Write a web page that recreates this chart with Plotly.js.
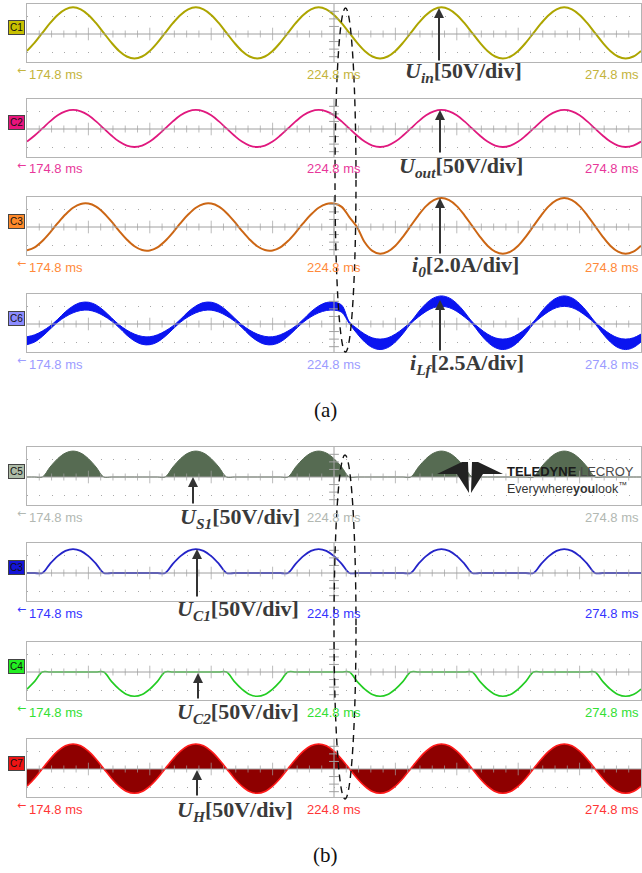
<!DOCTYPE html>
<html><head><meta charset="utf-8">
<script src="https://cdn.plot.ly/plotly-3.0.1.min.js"></script>
<style>html,body{margin:0;padding:0;background:#fff}#chart{width:642px;height:873px}</style>
</head><body><div id="chart"></div>
<script>
// ---- time axis samples (ms) ----
const timeMs = [174.8,176.05,177.3,178.55,179.8,181.05,182.3,183.55,184.8,186.05,187.3,188.55,189.8,191.05,192.3,193.55,
194.8,196.05,197.3,198.55,199.8,201.05,202.3,203.55,204.8,206.05,207.3,208.55,209.8,211.05,212.3,213.55,
214.8,216.05,217.3,218.55,219.8,221.05,222.3,223.55,224.8,226.05,227.3,228.55,229.8,231.05,232.3,233.55,
234.8,236.05,237.3,238.55,239.8,241.05,242.3,243.55,244.8,246.05,247.3,248.55,249.8,251.05,252.3,253.55,
254.8,256.05,257.3,258.55,259.8,261.05,262.3,263.55,264.8,266.05,267.3,268.55,269.8,271.05,272.3,273.55,
274.8];
// ---- signals, in screen divisions ----
const uIn = [-0.94,-0.48,0.06,0.60,1.06,1.37,1.48,1.37,1.06,0.60,0.06,-0.48,-0.94,-1.25,-1.36,-1.25,
-0.94,-0.48,0.06,0.60,1.06,1.37,1.48,1.37,1.06,0.60,0.06,-0.48,-0.94,-1.25,-1.36,-1.25,
-0.94,-0.48,0.06,0.60,1.06,1.37,1.48,1.37,1.06,0.60,0.06,-0.48,-0.94,-1.25,-1.36,-1.25,
-0.94,-0.48,0.06,0.60,1.06,1.37,1.48,1.37,1.06,0.60,0.06,-0.48,-0.94,-1.25,-1.36,-1.25,
-0.94,-0.48,0.06,0.60,1.06,1.37,1.48,1.37,1.06,0.60,0.06,-0.48,-0.94,-1.25,-1.36,-1.25,
-0.94];
const uOut = [-0.70,-0.36,0.03,0.42,0.76,0.98,1.06,0.98,0.76,0.42,0.03,-0.36,-0.70,-0.92,-1.00,-0.92,
-0.70,-0.36,0.03,0.42,0.76,0.98,1.06,0.98,0.76,0.42,0.03,-0.36,-0.70,-0.92,-1.00,-0.92,
-0.70,-0.36,0.03,0.42,0.76,0.98,1.06,0.98,0.76,0.42,0.03,-0.36,-0.70,-0.92,-1.00,-0.92,
-0.70,-0.36,0.03,0.42,0.76,0.98,1.06,0.98,0.76,0.42,0.03,-0.36,-0.70,-0.92,-1.00,-0.92,
-0.70,-0.36,0.03,0.42,0.76,0.98,1.06,0.98,0.76,0.42,0.03,-0.36,-0.70,-0.92,-1.00,-0.92,
-0.70];
const i0 = [-1.30,-1.13,-0.78,-0.31,0.21,0.69,1.07,1.28,1.30,1.13,0.78,0.31,-0.21,-0.69,-1.07,-1.28,
-1.30,-1.13,-0.78,-0.31,0.21,0.69,1.07,1.28,1.30,1.13,0.78,0.31,-0.21,-0.69,-1.07,-1.28,
-1.30,-1.13,-0.78,-0.31,0.21,0.69,1.07,1.28,1.30,1.12,0.55,0.00,-0.85,-1.33,-1.49,-1.37,
-1.04,-0.53,0.06,0.65,1.16,1.49,1.61,1.49,1.16,0.65,0.06,-0.53,-1.04,-1.37,-1.49,-1.37,
-1.04,-0.53,0.06,0.65,1.16,1.49,1.61,1.49,1.16,0.65,0.06,-0.53,-1.04,-1.37,-1.49,-1.37,
-1.04];
const iLf = [-0.93,-0.80,-0.54,-0.20,0.18,0.54,0.81,0.97,0.99,0.86,0.60,0.26,-0.12,-0.48,-0.75,-0.91,
-0.93,-0.80,-0.54,-0.20,0.18,0.54,0.81,0.97,0.99,0.86,0.60,0.26,-0.12,-0.48,-0.75,-0.91,
-0.93,-0.80,-0.54,-0.20,0.18,0.54,0.81,0.97,0.99,0.85,0.07,-0.39,-0.78,-1.04,-1.13,-1.04,
-0.78,-0.39,0.07,0.53,0.92,1.18,1.27,1.18,0.92,0.53,0.07,-0.39,-0.78,-1.04,-1.13,-1.04,
-0.78,-0.39,0.07,0.53,0.92,1.18,1.27,1.18,0.92,0.53,0.07,-0.39,-0.78,-1.04,-1.13,-1.04,
-0.78];
const iLfRipple = [0.22,0.20,0.15,0.09,0.08,0.14,0.19,0.22,0.22,0.20,0.15,0.09,0.08,0.14,0.19,0.22,
0.22,0.20,0.15,0.09,0.08,0.14,0.19,0.22,0.22,0.20,0.15,0.09,0.08,0.14,0.19,0.22,
0.22,0.20,0.15,0.09,0.08,0.14,0.19,0.22,0.22,0.20,0.05,0.14,0.22,0.27,0.29,0.27,
0.22,0.14,0.05,0.14,0.22,0.27,0.29,0.27,0.22,0.14,0.05,0.14,0.22,0.27,0.29,0.27,
0.22,0.14,0.05,0.14,0.22,0.27,0.29,0.27,0.22,0.14,0.05,0.14,0.22,0.27,0.29,0.27,
0.22];
const uS1 = [0,0,0,0.55,1.02,1.33,1.44,1.33,1.02,0.55,0,0,0,0,0,0,
0,0,0,0.55,1.02,1.33,1.44,1.33,1.02,0.55,0,0,0,0,0,0,
0,0,0,0.55,1.02,1.33,1.44,1.33,1.02,0.55,0,0,0,0,0,0,
0,0,0,0.55,1.02,1.33,1.44,1.33,1.02,0.55,0,0,0,0,0,0,
0,0,0,0.55,1.02,1.33,1.44,1.33,1.02,0.55,0,0,0,0,0,0,
0];
const uC1 = [0,0,0,0.51,0.94,1.23,1.33,1.23,0.94,0.51,0,0,0,0,0,0,
0,0,0,0.51,0.94,1.23,1.33,1.23,0.94,0.51,0,0,0,0,0,0,
0,0,0,0.51,0.94,1.23,1.33,1.23,0.94,0.51,0,0,0,0,0,0,
0,0,0,0.51,0.94,1.23,1.33,1.23,0.94,0.51,0,0,0,0,0,0,
0,0,0,0.51,0.94,1.23,1.33,1.23,0.94,0.51,0,0,0,0,0,0,
0];
const uC2 = [-0.95,-0.52,0,0,0,0,0,0,0,0,0,-0.52,-0.95,-1.25,-1.35,-1.25,
-0.95,-0.52,0,0,0,0,0,0,0,0,0,-0.52,-0.95,-1.25,-1.35,-1.25,
-0.95,-0.52,0,0,0,0,0,0,0,0,0,-0.52,-0.95,-1.25,-1.35,-1.25,
-0.95,-0.52,0,0,0,0,0,0,0,0,0,-0.52,-0.95,-1.25,-1.35,-1.25,
-0.95,-0.52,0,0,0,0,0,0,0,0,0,-0.52,-0.95,-1.25,-1.35,-1.25,
-0.95];
const uH = [-0.95,-0.51,0.02,0.54,0.99,1.29,1.39,1.29,0.99,0.54,0.02,-0.51,-0.95,-1.25,-1.35,-1.25,
-0.95,-0.51,0.02,0.54,0.99,1.29,1.39,1.29,0.99,0.54,0.02,-0.51,-0.95,-1.25,-1.35,-1.25,
-0.95,-0.51,0.02,0.54,0.99,1.29,1.39,1.29,0.99,0.54,0.02,-0.51,-0.95,-1.25,-1.35,-1.25,
-0.95,-0.51,0.02,0.54,0.99,1.29,1.39,1.29,0.99,0.54,0.02,-0.51,-0.95,-1.25,-1.35,-1.25,
-0.95,-0.51,0.02,0.54,0.99,1.29,1.39,1.29,0.99,0.54,0.02,-0.51,-0.95,-1.25,-1.35,-1.25,
-0.95];
// ---- texts ----
const timeLabels = ['174.8 ms','224.8 ms','274.8 ms'];
const channelTags = ['C1','C2','C3','C6','C5','C3','C4','C7'];
const signalNames = [
 '<b><i>U</i><sub><i>in</i></sub>[50V/div]</b>',
 '<b><i>U</i><sub><i>out</i></sub>[50V/div]</b>',
 '<b><i>i</i><sub><i>0</i></sub>[2.0A/div]</b>',
 '<b><i>i</i><sub><i>Lf</i></sub>[2.5A/div]</b>',
 '<b><i>U</i><sub><i>S1</i></sub>[50V/div]</b>',
 '<b><i>U</i><sub><i>C1</i></sub>[50V/div]</b>',
 '<b><i>U</i><sub><i>C2</i></sub>[50V/div]</b>',
 '<b><i>U</i><sub><i>H</i></sub>[50V/div]</b>'];
const figureTags = ['(a)','(b)'];

// ---- layout helpers ----
const W=642,H=873, DIV=18;
const PX=x=>x/W, PY=y=>1-y/H;
const T0=174.8, T1=274.8, TC=224.8;
const YMIN=-28/DIV, YMAX=30/DIV;
const panels = [
 {top:4,   tagFill:'#C8C000', txt:'#C4B43C', lab:[463,72],  arr:[439,8,62]},
 {top:99,  tagFill:'#E8147C', txt:'#E8379A', lab:[461,167], arr:[440,110,154]},
 {top:197, tagFill:'#FF8A2A', txt:'#FF8A3A', lab:[465,266], arr:[440,198,255]},
 {top:294, tagFill:'#8C8CFF', txt:'#9C9CFF', lab:[467,364], arr:[440,300,352]},
 {top:447, tagFill:'#AEBCA8', txt:'#B2B8B2', lab:[240,518], arr:[193,477,505]},
 {top:543, tagFill:'#1414D8', txt:'#3434FF', lab:[238,610], arr:[197,549,598]},
 {top:642, tagFill:'#22EE22', txt:'#33E033', lab:[238,713], arr:[198,673,700]},
 {top:739, tagFill:'#EE1414', txt:'#FF3636', lab:[235,811], arr:[197,770,797]}
];
const ax = i => i===0 ? '' : String(i+1);

const traces = [];
function add(i, tr){ tr.xaxis='x'+ax(i); tr.yaxis='y'+ax(i); tr.hoverinfo='skip'; tr.showlegend=false; traces.push(tr); }

add(0,{x:timeMs,y:uIn,mode:'lines',line:{color:'#ADA500',width:2,shape:'spline'}});
add(1,{x:timeMs,y:uOut,mode:'lines',line:{color:'#E0187E',width:1.8,shape:'spline'}});
add(2,{x:timeMs,y:i0,mode:'lines',line:{color:'#CC6614',width:2,shape:'spline'}});
add(3,{x:timeMs,y:iLf.map((v,j)=>v-iLfRipple[j]),mode:'lines',line:{color:'#0A14F0',width:1,shape:'spline'}});
add(3,{x:timeMs,y:iLf.map((v,j)=>v+iLfRipple[j]),mode:'lines',line:{color:'#0A14F0',width:1,shape:'spline'},fill:'tonexty',fillcolor:'#0A14F0'});
add(4,{x:timeMs,y:uS1,mode:'lines',line:{color:'#566B52',width:1,shape:'spline'},fill:'tozeroy',fillcolor:'#566B52'});
add(5,{x:timeMs,y:uC1,mode:'lines',line:{color:'#2424C8',width:1.8,shape:'spline'}});
add(6,{x:timeMs,y:uC2,mode:'lines',line:{color:'#22CC22',width:1.6,shape:'spline'}});
add(7,{x:timeMs,y:uH,mode:'lines',line:{color:'#FF1A1A',width:1.6,shape:'spline'},fill:'tozeroy',fillcolor:'#8E0000'});

// graticule (center lines with ticks) on top
const tickX=[], tickS=[];
for(let k=1;k<50;k++){ tickX.push(T0+2*k); tickS.push(k%5===0?9:5); }
const vTicks=[-1.26,-0.84,-0.42,0.42,0.84,1.26];
const GC='#a0a0a0';
panels.forEach((p,i)=>{
  add(i,{x:[T0,T1],y:[0,0],mode:'lines',line:{color:GC,width:1}});
  add(i,{x:[TC,TC],y:[YMIN,YMAX],mode:'lines',line:{color:GC,width:1}});
  add(i,{x:tickX,y:tickX.map(()=>0),mode:'markers',marker:{symbol:'line-ns',size:tickS,line:{color:GC,width:1}}});
  add(i,{x:vTicks.map(()=>TC),y:vTicks,mode:'markers',marker:{symbol:'line-ew',size:7,line:{color:GC,width:1}}});
});

const layout = {width:W,height:H,margin:{l:0,r:0,t:0,b:0,pad:0},paper_bgcolor:'#fff',plot_bgcolor:'#fff',
  showlegend:false, annotations:[], shapes:[]};
function note(x,y,text,font,extra){
  return Object.assign({xref:'paper',yref:'paper',x:PX(x),y:PY(y),xanchor:'center',yanchor:'middle',text:text,showarrow:false,font:font},extra||{});
}
panels.forEach((p,i)=>{
  layout['xaxis'+ax(i)] = {domain:[PX(27),PX(641)],range:[T0,T1],anchor:'y'+ax(i),showticklabels:false,ticks:'',
    showgrid:false,zeroline:false,showline:true,mirror:true,linecolor:'#b4b4b4',linewidth:1,fixedrange:true};
  layout['yaxis'+ax(i)] = {domain:[PY(p.top+58),PY(p.top)],range:[YMIN,YMAX],anchor:'x'+ax(i),tickvals:[-1,1],
    showticklabels:false,ticks:'',showgrid:true,gridcolor:'#a8a8a8',gridwidth:1,griddash:'1px,11.28px',
    zeroline:false,showline:true,mirror:true,linecolor:'#b4b4b4',linewidth:1,fixedrange:true};
  const A = layout.annotations;
  A.push(note(16,p.top+24,channelTags[i],{family:'Liberation Sans',size:10,color:'#111'},
    {bgcolor:p.tagFill,bordercolor:'#444',borderwidth:1,borderpad:1}));
  const ly = p.top+70;
  const tf = {family:'Liberation Sans',size:13,color:p.txt};
  A.push(note(27,ly,timeLabels[0],tf,{xanchor:'left'}));
  A.push(note(334,ly,timeLabels[1],tf));
  A.push(note(641,ly,timeLabels[2],tf,{xanchor:'right'}));
  A.push(note(22,ly-4,'←',{family:'DejaVu Sans',size:11,color:p.txt}));
  A.push(note(p.lab[0],p.lab[1],signalNames[i],{family:'Liberation Serif',size:22,color:'#3a3a3a'}));
  A.push({xref:'paper',yref:'paper',x:PX(p.arr[0]),y:PY(p.arr[1]),ax:0,ay:p.arr[2]-p.arr[1],text:'',showarrow:true,
    arrowhead:2,arrowsize:1,arrowwidth:2,arrowcolor:'#333',standoff:0,startstandoff:0});
});
layout.annotations.push(note(326,410,figureTags[0],{family:'Liberation Serif',size:21,color:'#111'}));
layout.annotations.push(note(326,855,figureTags[1],{family:'Liberation Serif',size:21,color:'#111'}));
// logo text
layout.annotations.push(note(505,471,'<b>TELEDYNE</b> <span style="color:#4a4a4a">LECROY</span>',
  {family:'Liberation Sans',size:13,color:'#1a1a1a'},{xanchor:'left'}));
layout.annotations.push(note(505,488,'Everywhere<b>you</b>look<sup>™</sup>',
  {family:'Liberation Sans',size:12.5,color:'#333'},{xanchor:'left'}));

// dashed ellipses
layout.shapes.push({type:'circle',xref:'paper',yref:'paper',x0:PX(335),x1:PX(356),y0:PY(8),y1:PY(352),line:{color:'#111',width:1.4,dash:'7px,5px'}});
layout.shapes.push({type:'circle',xref:'paper',yref:'paper',x0:PX(334),x1:PX(356),y0:PY(455),y1:PY(799),line:{color:'#111',width:1.4,dash:'7px,5px'}});
// logo mark
function path(pts){ return 'M '+pts.map(q=>PX(q[0])+','+PY(q[1])).join(' L ')+' Z'; }
layout.shapes.push({type:'path',xref:'paper',yref:'paper',path:path([[437,474],[462,462],[468,462],[469,493],[457,474]]),fillcolor:'#222',line:{width:0}});
layout.shapes.push({type:'path',xref:'paper',yref:'paper',path:path([[503,474],[478,462],[472,462],[471,493],[483,474]]),fillcolor:'#222',line:{width:0}});

Plotly.newPlot('chart',traces,layout,{displayModeBar:false,staticPlot:true});
</script></body></html>
